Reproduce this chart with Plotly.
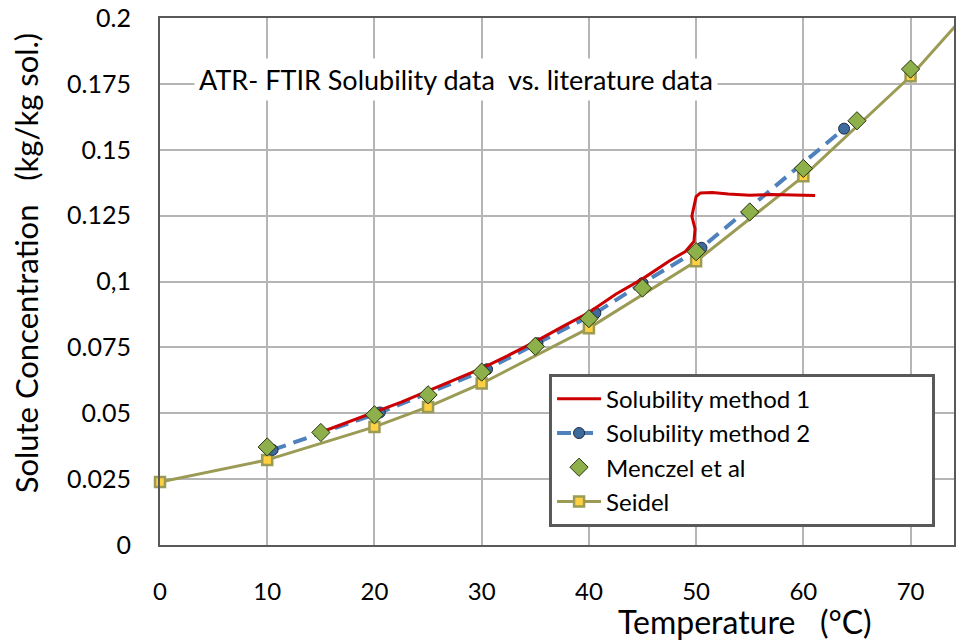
import plotly.graph_objects as go

FONT = "Lato, 'Open Sans', sans-serif"
GRID_COLOR = "#B5B5B5"
AXIS_COLOR = "#595959"
RED = "#CC0000"
BLUE = "#4F81BD"
BLUE_MARKER = "#3D6B9E"
GREEN = "#8DB04A"
OLIVE = "#9B9B55"
GOLD = "#FFD040"

# Solubility method 1 (continuous ATR-FTIR trace)
method1_t = [15.0, 17.5, 20.0, 22.5, 25.0, 27.5, 30.0, 32.5, 35.0, 37.5, 40.0, 42.5, 45.0,
             47.5, 49.0, 49.8, 49.9, 49.6, 50.0, 50.4, 51.5, 53.0, 55.0, 57.0, 59.0, 61.1]
method1_c = [0.0428, 0.0467, 0.0506, 0.0542, 0.0585, 0.0628, 0.0670, 0.0720, 0.0772, 0.0828,
             0.0882, 0.0952, 0.1010, 0.1078, 0.1114, 0.1152, 0.1200, 0.1248, 0.1322, 0.1336,
             0.1338, 0.1332, 0.1327, 0.1330, 0.1327, 0.1326]

# Solubility method 2
method2_t = [10.5, 20.5, 30.5, 35.2, 40.6, 45.0, 50.5, 63.8]
method2_c = [0.0361, 0.0503, 0.0667, 0.0766, 0.0880, 0.0994, 0.1128, 0.1580]

# Menczel et al
menczel_t = [10, 15, 20, 25, 30, 35, 40, 45, 50, 55, 60, 65, 70]
menczel_c = [0.0372, 0.0427, 0.0494, 0.0570, 0.0656, 0.0754, 0.0859, 0.0975, 0.1113,
             0.1264, 0.1429, 0.1610, 0.1806]

# Seidel
seidel_t = [0, 10, 20, 25, 30, 40, 50, 60, 70, 80]
seidel_c = [0.0239, 0.0323, 0.0448, 0.0524, 0.0613, 0.0823, 0.1077, 0.1399, 0.1779, 0.2235]

y_ticks = [0, 0.025, 0.05, 0.075, 0.1, 0.125, 0.15, 0.175, 0.2]
y_labels = ["0", "0.025", "0.05", "0.075", "0,1", "0.125", "0.15", "0.175", "0.2"]
x_ticks = [0, 10, 20, 30, 40, 50, 60, 70]

PAD = "\u00a0" * 19  # keeps the legend box as wide as the original one

fig = go.Figure()
fig.add_trace(go.Scatter(
    x=seidel_t, y=seidel_c, mode="lines+markers", name="Seidel" + PAD, legendrank=4,
    line=dict(color=OLIVE, width=3),
    marker=dict(symbol="square", size=10, color=GOLD, line=dict(color=OLIVE, width=2.5)),
    cliponaxis=False,
))
fig.add_trace(go.Scatter(
    x=method2_t, y=method2_c, mode="lines+markers", name="Solubility method 2" + PAD, legendrank=2,
    line=dict(color=BLUE, width=4, dash="14px,8px"),
    marker=dict(symbol="circle", size=11, color=BLUE_MARKER, line=dict(color="#1C2B44", width=1)),
))
fig.add_trace(go.Scatter(
    x=method1_t, y=method1_c, mode="lines", name="Solubility method 1" + PAD, legendrank=1,
    line=dict(color=RED, width=3),
))
fig.add_trace(go.Scatter(
    x=menczel_t, y=menczel_c, mode="markers", name="Menczel et al" + PAD, legendrank=3,
    marker=dict(symbol="diamond", size=14, color=GREEN, line=dict(color="#26330F", width=1)),
))

fig.update_layout(
    width=956,
    height=644,
    margin=dict(l=160, r=0, t=18, b=99),
    paper_bgcolor="white",
    plot_bgcolor="white",
    font=dict(family=FONT, size=24, color="black"),
    showlegend=True,
    legend=dict(
        x=0.49, y=0.325, xanchor="left", yanchor="top",
        bgcolor="white", bordercolor=AXIS_COLOR, borderwidth=3,
        font=dict(size=24, color="black"),
        itemwidth=44,
        tracegroupgap=0,
    ),
    xaxis=dict(
        range=[0, 74.05], tickvals=x_ticks, showgrid=True, gridcolor=GRID_COLOR, gridwidth=1.5,
        showline=True, mirror=True, linecolor=AXIS_COLOR, linewidth=2, zeroline=False,
        ticks="", ticklabelstandoff=24,
    ),
    yaxis=dict(
        range=[0, 0.2], tickvals=y_ticks, ticktext=y_labels, showgrid=True,
        gridcolor=GRID_COLOR, gridwidth=1.5,
        showline=True, mirror=True, linecolor=AXIS_COLOR, linewidth=2, zeroline=False,
        ticks="", ticklabelstandoff=22, tickfont=dict(size=25),
    ),
    annotations=[
        dict(
            text="ATR- FTIR Solubility data \u00a0vs. literature data",
            xref="paper", yref="paper", x=0.373, y=0.924, showarrow=False,
            font=dict(size=27, color="black"), bgcolor="white", borderpad=4,
        ),
        dict(
            text="Solute Concentration \u00a0\u00a0(kg/kg sol.)",
            xref="paper", yref="paper", x=-0.169, y=0.536, xanchor="center", yanchor="middle",
            textangle=-90, showarrow=False, font=dict(size=31, color="black"),
        ),
        dict(
            text="Temperature \u00a0\u00a0(°C)",
            xref="paper", yref="paper", x=0.737, y=-0.146, xanchor="center", yanchor="middle",
            showarrow=False, font=dict(size=32, color="black"),
        ),
    ],
)

fig.write_html(
    "out.html",
    config={"displayModeBar": False},
    post_script="document.body.style.margin='0';",
)
